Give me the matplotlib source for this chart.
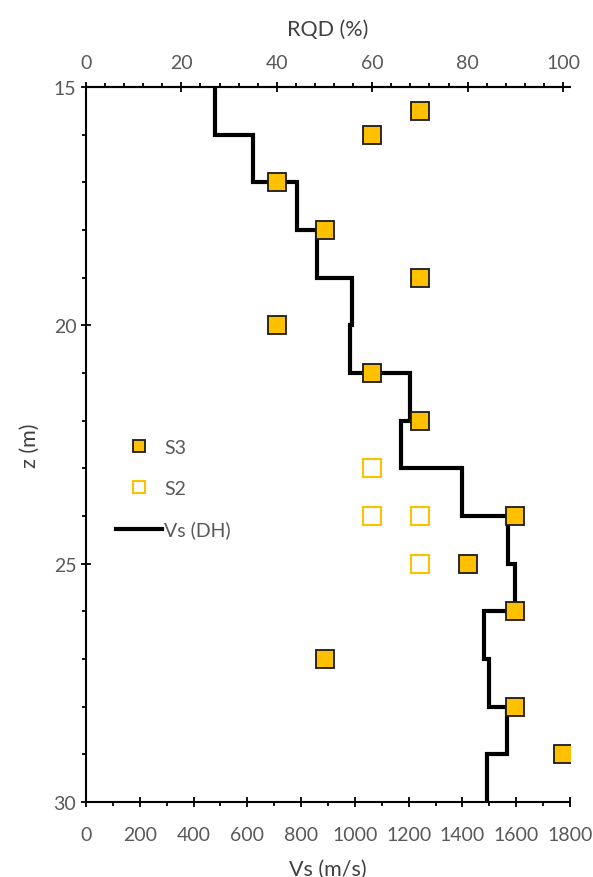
# Vs profile (downhole) with RQD from boreholes S3 / S2

import numpy as np
import matplotlib.pyplot as plt
from matplotlib.ticker import MultipleLocator

plt.rcParams['font.family'] = ['Lato', 'DejaVu Sans']

# Vs (DH) per 1 m depth interval, 15-30 m
z_top = [15, 16, 17, 18, 19, 20, 21, 22, 23, 24, 25, 26, 27, 28, 29]
z_bot = [16, 17, 18, 19, 20, 21, 22, 23, 24, 25, 26, 27, 28, 29, 30]
vs = [480, 620, 785, 860, 990, 980, 1205, 1170, 1400, 1570, 1595, 1480, 1500, 1565, 1490]

# RQD samples
s3_rqd = [70, 60, 40, 50, 70, 40, 60, 70, 90, 80, 90, 50, 90, 100]
s3_z = [15.5, 16, 17, 18, 19, 20, 21, 22, 24, 25, 26, 27, 28, 29]
s2_rqd = [60, 60, 70, 70]
s2_z = [23, 24, 24, 25]

gold = '#FFC000'
grey = '#595959'
dark = '#404040'

# build the stepped line
line_x = np.repeat(vs, 2)
line_z = np.column_stack((z_top, z_bot)).ravel()

fig = plt.figure(figsize=(5.93, 8.78), dpi=100)
ax = fig.add_axes([86/593, 1-803/878, (570-86)/593, (803-88)/878])

vs_line, = ax.plot(line_x, line_z, color='black', lw=3.0, solid_joinstyle='miter', label='Vs (DH)')
ax.set_xlim(0, 1800)
ax.set_ylim(30, 15)
ax.xaxis.set_major_locator(MultipleLocator(200))
ax.xaxis.set_minor_locator(MultipleLocator(100))
ax.yaxis.set_major_locator(MultipleLocator(5))
ax.yaxis.set_minor_locator(MultipleLocator(1))
ax.tick_params(which='both', color='black', width=1.3, labelcolor=grey, labelsize=14)
ax.tick_params(which='major', direction='inout', length=7)
ax.tick_params(which='minor', direction='out', length=3)
ax.tick_params(axis='x', which='major', pad=14)
ax.spines['right'].set_visible(False)
for s in ['left', 'bottom', 'top']:
    ax.spines[s].set_linewidth(1.5)
ax.set_xlabel('Vs (m/s)', fontsize=15.5, color=dark, labelpad=11)
ax.set_ylabel('z (m)', fontsize=15.5, color=dark, labelpad=10)

# RQD on the top axis (100 % ends short of the bottom 1800 tick)
ax2 = ax.twiny()
ax2.set_xlim(0, 100*484/477)
ax2.set_ylim(30, 15)
ax2.spines['top'].set_bounds(0, 100)
ax2.spines['top'].set_linewidth(1.5)
for s in ['left', 'bottom', 'right']:
    ax2.spines[s].set_visible(False)
ax2.set_xticks(np.arange(0, 101, 20))
ax2.set_xticks(np.arange(0, 101, 4), minor=True)
ax2.tick_params(which='both', color='black', width=1.3, labelcolor=grey, labelsize=14)
ax2.tick_params(which='major', direction='inout', length=7, pad=8)
ax2.tick_params(which='minor', direction='out', length=3)
ax2.set_xlabel('RQD (%)', fontsize=15.5, color=dark, labelpad=14)

s3, = ax2.plot(s3_rqd, s3_z, 's', ms=13, mfc=gold, mec='#1a1a1a', mew=1.3, ls='none', label='S3')
s2, = ax2.plot(s2_rqd, s2_z, 's', ms=13, mfc='white', mec=gold, mew=1.5, ls='none', label='S2')

leg = ax2.legend(handles=[s3, s2, vs_line], loc='upper left', bbox_to_anchor=(0.025, 0.532),
                 frameon=False, fontsize=14, labelcolor=grey, markerscale=0.7,
                 handlelength=2.4, handletextpad=0.1, labelspacing=1.22)

fig.savefig('out.png', dpi=100)
